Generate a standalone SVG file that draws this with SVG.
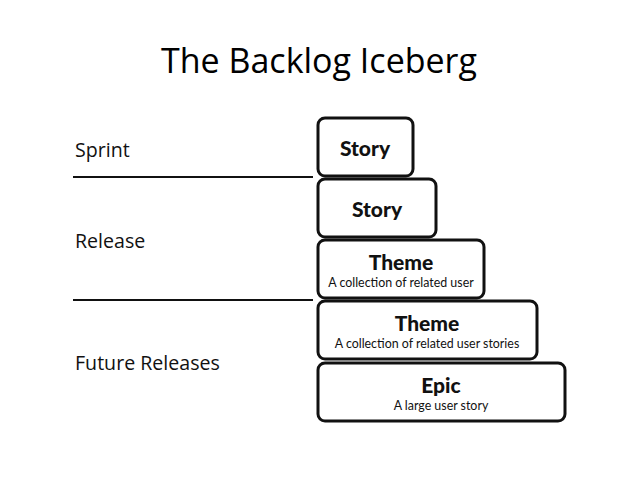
<svg xmlns="http://www.w3.org/2000/svg" width="638" height="478" viewBox="0 0 638 478">
<style>
.title{font-family:"Open Sans","Liberation Sans",sans-serif;font-size:34px;fill:#000}
.lbl{font-family:"Open Sans","Liberation Sans",sans-serif;font-size:19.6px;fill:#111}
.box{fill:#fff;stroke:#111;stroke-width:3}
.h{font-family:Lato,"Open Sans",sans-serif;font-weight:900;font-size:21px;fill:#111;text-anchor:middle}
.s{font-family:Lato,"Open Sans",sans-serif;font-size:12.4px;fill:#111;text-anchor:middle}
.sep{stroke:#111;stroke-width:2}
</style>
<rect width="638" height="478" fill="#fff"/>
<text class="title" x="319" y="73" text-anchor="middle">The Backlog Iceberg</text>
<g id="labels">
<text class="lbl" x="75" y="157">Sprint</text>
<text class="lbl" x="75" y="248">Release</text>
<text class="lbl" x="75" y="370">Future Releases</text>
</g>
<g id="connectors">
<line class="sep" x1="73" y1="177" x2="313" y2="177"/>
<line class="sep" x1="73" y1="300" x2="313" y2="300"/>
</g>
<g id="story1"><rect class="box" x="318" y="118" width="95" height="58" rx="7"/><text class="h" x="365" y="156">Story</text></g>
<g id="story2"><rect class="box" x="318" y="179" width="118" height="58" rx="7"/><text class="h" x="377" y="217">Story</text></g>
<g id="theme1"><rect class="box" x="318" y="240" width="166" height="58" rx="7"/><text class="h" x="401" y="270">Theme</text><text class="s" x="401" y="287">A collection of related user</text></g>
<g id="theme2"><rect class="box" x="318" y="301" width="219" height="58" rx="7"/><text class="h" x="427" y="331">Theme</text><text class="s" x="427" y="348">A collection of related user stories</text></g>
<g id="epic"><rect class="box" x="318" y="363" width="247" height="58" rx="7"/><text class="h" x="441" y="393">Epic</text><text class="s" x="441" y="410">A large user story</text></g>
</svg>
